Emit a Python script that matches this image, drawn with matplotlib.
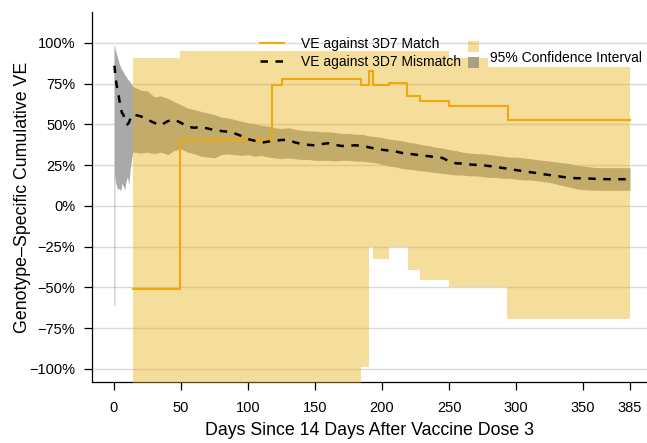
import matplotlib
matplotlib.use("Agg")
import matplotlib.pyplot as plt
from matplotlib.lines import Line2D
from matplotlib.patches import Rectangle
from matplotlib.ticker import FuncFormatter

plt.rcParams['font.family'] = ['Liberation Sans', 'DejaVu Sans']

# --- VE against 3D7 Match (step curve) and its 95% CI ---
match_day = [14, 49.3, 118, 125, 184.3, 190.5, 193.5, 205.4, 219, 228.4, 250, 293.7, 385]
match_ve = [-51, 40.5, 74, 78, 74, 82.5, 74, 75.7, 67.4, 64.3, 61.3, 52.9, 52.9]

match_ci_day = [14, 49.3, 184, 190.5, 193.5, 205.3, 219.4, 228.4, 249.8, 293.5, 385]
match_ci_lo = [-150, -150, -98.5, -25, -32.7, -25, -39, -45.4, -50, -69.4, -69.4]
match_ci_hi = [91, 95, 95, 95, 95, 95, 95, 95, 90.5, 90.5, 90.5]

# --- VE against 3D7 Mismatch and its 95% CI ---
mis_day = [0, 0.6, 0.6, 1, 2, 3, 4, 5, 6, 7, 8, 9, 10, 11, 12, 13, 14,
           15, 20, 25, 30, 35, 40, 45, 50, 55, 60, 65, 70, 75, 80, 85, 90, 95,
           100, 105, 110, 115, 120, 125, 130, 135, 140, 145, 150, 155, 160, 165,
           170, 175, 180, 185, 190, 195, 200, 205, 210, 215, 220, 225, 230, 235,
           240, 245, 250, 255, 260, 265, 270, 275, 280, 285, 290, 295, 300, 305,
           310, 315, 320, 325, 330, 335, 340, 345, 350, 355, 360, 365, 370, 375,
           380, 385]
mis_ve = [86, 85, 84, 80, 74, 70, 65, 60, 57, 56, 53, 51, 50, 51, 53, 55, 55,
          56, 55, 53, 51, 49.5, 52, 53, 51, 48.5, 48, 48.5, 47.5, 46.5, 46, 45.5, 44.5, 43,
          41, 40, 38.8, 39.5, 40, 40.5, 40.5, 39, 38, 37.5, 37.2, 38, 38.5, 37.5,
          36.8, 37, 37.2, 37, 36, 35.2, 34.5, 34, 33.5, 32.5, 32, 31.5, 31, 30.5,
          30, 29.5, 27.5, 26.2, 26, 25.5, 25.2, 25, 24.5, 24, 23.3, 22.8, 22, 21.4,
          20.8, 20.2, 19.5, 19, 18.4, 17.8, 17.3, 17, 17, 16.8, 16.6, 16.5, 16.4, 16.4,
          16.4, 16.4]
mis_lo = [-61, -61, 20, 15, 12, 10, 11, 9, 14, 12, 10, 15, 18, 13, 22, 28, 33,
          33, 32.5, 33, 32, 33, 31.5, 34, 35, 33, 32, 30.5, 30, 29.5, 31.5, 32, 31.5, 31,
          31.5, 30.5, 31, 30, 29.5, 29, 29.5, 29, 28.5, 28.5, 28, 28, 28, 27.5,
          28, 28, 27.5, 27.5, 27, 26.5, 25.5, 24.5, 24, 23, 22.5, 22, 21.5, 21,
          20.5, 20, 19.5, 19, 19, 18.5, 18.5, 18, 17.5, 17.5, 17, 17, 16.5, 16,
          16, 15.5, 15, 14.5, 13.5, 12.5, 11.5, 10.5, 10, 9.8, 9.6, 9.6, 9.6, 9.6,
          9.6, 9.6]
mis_hi = [98.6, 98, 97, 96, 93, 90, 87, 85, 83.5, 82, 80.5, 79.5, 78, 77, 76, 75, 73.5,
          73, 71, 70.5, 67, 67.5, 66, 64, 62, 60, 59, 58, 57, 56, 54.5, 54, 53, 52,
          51, 50.5, 49.5, 49, 48, 47.5, 48, 47, 46.5, 46, 46, 45.5, 45.5, 45,
          44.5, 44.5, 44, 44, 43, 42.5, 42, 41, 40.5, 40, 39, 38.5, 37.5, 37,
          36, 35.5, 34.5, 34, 33, 32.5, 32, 32, 31.5, 31, 30.5, 30, 30, 29.5,
          29, 28.5, 28, 27.5, 27, 26.5, 26, 25, 24.5, 24, 23.5, 23.5, 23.5, 23.5,
          23.5, 23.5]

x_ticks = [0, 50, 100, 150, 200, 250, 300, 350, 385]
y_ticks = [-100, -75, -50, -25, 0, 25, 50, 75, 100]

gold = '#E9AE11'
orange = '#EEAA08'
gray = '#A9A9A9'

fig = plt.figure(figsize=(6.47, 4.43), dpi=100)
ax = fig.add_axes([92 / 647, 61 / 443, 555 / 647, 370 / 443])

ax.fill_between(mis_day, mis_lo, mis_hi, color=gray, lw=0, zorder=2)
ax.fill_between(match_ci_day, match_ci_lo, match_ci_hi, step='post',
                color=gold, alpha=0.42, lw=0, zorder=3)
ax.plot(match_day, match_ve, drawstyle='steps-post', color=orange, lw=1.5, zorder=4)
ax.plot(mis_day, mis_ve, color='black', lw=1.8, ls=(0, (3, 3)), zorder=5)

ax.set_xlim(-16.4, 397.7)
ax.set_ylim(-108, 119)
ax.set_xticks(x_ticks)
ax.set_yticks(y_ticks)
ax.yaxis.set_major_formatter(FuncFormatter(lambda v, p: f"{v:.0f}%".replace('-', '\u2212')))
ax.tick_params(labelsize=10.5, length=6, width=0.9, color='black', direction='out')
ax.tick_params(axis='x', pad=8)
ax.tick_params(axis='y', pad=6)
ax.grid(axis='y', color='#DADADA', lw=1, zorder=1)
ax.set_axisbelow(True)
for s in ['top', 'right']:
    ax.spines[s].set_visible(False)
for s in ['left', 'bottom']:
    ax.spines[s].set_linewidth(0.9)

ax.set_xlabel("Days Since 14 Days After Vaccine Dose 3", fontsize=12.8, labelpad=5)
ax.set_ylabel("Genotype\u2013Specific Cumulative VE", fontsize=12.8, labelpad=-1)

handles = [Line2D([], [], color=orange, lw=1.5),
           Line2D([], [], color='black', lw=1.8, ls=(0, (3, 3)))]
ax.legend(handles, ["VE against 3D7 Match", "VE against 3D7 Mismatch"],
          loc='upper left', bbox_to_anchor=(0.281, 0.966), frameon=False,
          fontsize=10, handlelength=1.7, handletextpad=1.2, labelspacing=0.25,
          borderpad=0.4)

# confidence interval key
ax.add_patch(Rectangle((0.678, 0.892), 0.020, 0.030, transform=ax.transAxes,
                       color=gold, alpha=0.42, lw=0, zorder=6))
ax.add_patch(Rectangle((0.678, 0.849), 0.020, 0.030, transform=ax.transAxes,
                       color='#A99F85', lw=0, zorder=6))
ax.text(0.718, 0.876, "95% Confidence Interval", transform=ax.transAxes,
        fontsize=10, va='center', ha='left', zorder=6,
        bbox=dict(facecolor='white', edgecolor='none', pad=1.5))

fig.savefig('out.png', dpi=100)
